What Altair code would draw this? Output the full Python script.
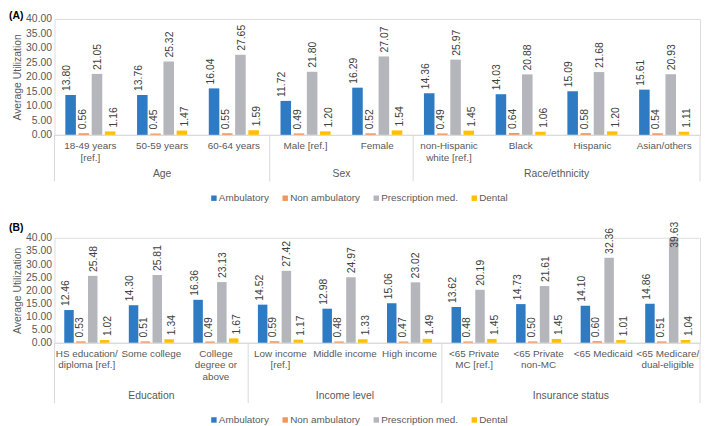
import altair as alt
import pandas as pd

FONT = "Liberation Sans"
TXT = "#595959"

series = ["Ambulatory", "Non ambulatory", "Prescription med.", "Dental"]
colors = ["#2E7BC4", "#F0965A", "#B4B6BC", "#FFC000"]

# Panel A
a_subcats = ["18-49 years|[ref.]", "50-59 years", "60-64 years", "Male [ref.]", "Female",
             "non-Hispanic|white [ref.]", "Black", "Hispanic", "Asian/others"]
a_ambulatory = [13.80, 13.76, 16.04, 11.72, 16.29, 14.36, 14.03, 15.09, 15.61]
a_nonamb = [0.56, 0.45, 0.55, 0.49, 0.52, 0.49, 0.64, 0.58, 0.54]
a_presc = [21.05, 25.32, 27.65, 21.80, 27.07, 25.97, 20.88, 21.68, 20.93]
a_dental = [1.16, 1.47, 1.59, 1.20, 1.54, 1.45, 1.06, 1.20, 1.11]
a_groups = ["Age", "Sex", "Race/ethnicity"]
a_group_sizes = [3, 2, 4]

# Panel B
b_subcats = ["HS education/|diploma [ref.]", "Some college", "College|degree or|above",
             "Low income|[ref.]", "Middle income", "High income",
             "<65 Private|MC [ref.]", "<65 Private|non-MC", "<65 Medicaid", "<65 Medicare/|dual-eligible"]
b_ambulatory = [12.46, 14.30, 16.36, 14.52, 12.98, 15.06, 13.62, 14.73, 14.10, 14.86]
b_nonamb = [0.53, 0.51, 0.49, 0.59, 0.48, 0.47, 0.48, 0.50, 0.60, 0.51]
b_presc = [25.48, 25.81, 23.13, 27.42, 24.97, 23.02, 20.19, 21.61, 32.36, 39.63]
b_dental = [1.02, 1.34, 1.67, 1.17, 1.33, 1.49, 1.45, 1.45, 1.01, 1.04]
b_groups = ["Education", "Income level", "Insurance status"]
b_group_sizes = [3, 3, 4]

y_ticks = [0, 5, 10, 15, 20, 25, 30, 35, 40]
WIDTH = 652


def make_panel(tag, subcats, vals, groups, sizes, height, tag_y, glabel_dy, sep_len,
               label_cap, legend_y):
    rows = []
    for i, sub in enumerate(subcats):
        for j, s in enumerate(series):
            rows.append({"sub": sub, "series": s, "value": vals[j][i]})
    df = pd.DataFrame(rows)

    starts, s0 = [], 0
    for n in sizes:
        starts.append(s0)
        s0 += n
    gdf = pd.DataFrame({"label": groups, "start": starts,
                        "end": [a + b for a, b in zip(starts, sizes)]})
    bdf = pd.DataFrame({"b": [0] + list(gdf["end"])})
    ncat = len(subcats)

    xs = alt.Scale(paddingInner=0, paddingOuter=0)
    xo = alt.Scale(paddingInner=0.2, paddingOuter=0.82)
    ys = alt.Scale(domain=[0, 40], nice=False)
    ytitle = "Average Utilization"
    yaxis = alt.Axis(values=y_ticks, format=".2f", grid=False, domain=False, ticks=False,
                     labelOverlap=False, labelPadding=3, titlePadding=3,
                     labelFontSize=10.5, titleFontSize=10.5,
                     titleFontWeight="normal", labelColor=TXT, titleColor=TXT,
                     labelFont=FONT, titleFont=FONT)

    base = alt.Chart(df)
    bars = base.mark_bar().encode(
        x=alt.X("sub:N", sort=subcats, scale=xs, title=None,
                axis=alt.Axis(labelAngle=0, labelExpr="split(datum.label, '|')", ticks=False,
                              tickSize=0, labelPadding=6, labelFontSize=10, labelColor=TXT,
                              domainColor="#D9D9D9", labelLineHeight=11.5, labelLimit=300,
                              labelBaseline="top", labelFont=FONT)),
        xOffset=alt.XOffset("series:N", sort=series, scale=xo),
        y=alt.Y("value:Q", scale=ys, title=ytitle, axis=yaxis),
        color=alt.Color("series:N", sort=series, scale=alt.Scale(domain=series, range=colors),
                        legend=alt.Legend(title=None, orient="none", legendX=156, legendY=legend_y,
                                          direction="horizontal", symbolType="square", symbolSize=30,
                                          symbolStrokeWidth=0, labelFontSize=10, labelColor=TXT,
                                          labelFont=FONT, labelOffset=0, columnPadding=11, padding=0)),
    )
    labels = base.transform_calculate(pos=f"min(datum.value, {label_cap})").mark_text(
        angle=270, align="left", baseline="middle", dx=4, fontSize=10.5, color="#404040", font=FONT
    ).encode(
        x=alt.X("sub:N", sort=subcats, scale=xs, axis=None),
        xOffset=alt.XOffset("series:N", sort=series, scale=xo),
        y=alt.Y("pos:Q", scale=ys, title=ytitle, axis=yaxis),
        text=alt.Text("value:Q", format=".2f"),
    )
    qs = alt.Scale(domain=[0, ncat], nice=False, zero=False)
    seps = alt.Chart(bdf).mark_rule(color="#D9D9D9", strokeWidth=1).encode(
        x=alt.X("b:Q", scale=qs, axis=None),
        y=alt.value(height),
        y2=alt.value(height + sep_len),
    )
    glabels = alt.Chart(gdf).transform_calculate(mid="(datum.start + datum.end) / 2").mark_text(
        fontSize=10.5, color=TXT, baseline="middle", align="center", font=FONT
    ).encode(
        x=alt.X("mid:Q", scale=qs, axis=None),
        y=alt.value(height + glabel_dy),
        text="label:N",
    )
    tagc = alt.Chart(pd.DataFrame({"t": [tag]})).mark_text(
        align="left", baseline="top", fontWeight="bold", fontSize=10.5, color="#000000", font=FONT
    ).encode(x=alt.value(-46), y=alt.value(tag_y), text="t:N")

    return alt.layer(bars, labels, seps, glabels, tagc).resolve_scale(
        x="independent", xOffset="independent"
    ).properties(width=WIDTH, height=height)


panel_a = make_panel("(A)", a_subcats, [a_ambulatory, a_nonamb, a_presc, a_dental],
                     a_groups, a_group_sizes, 117, -8, 40, 47, 34.7, 176)
panel_b = make_panel("(B)", b_subcats, [b_ambulatory, b_nonamb, b_presc, b_dental],
                     b_groups, b_group_sizes, 106, -15, 54, 61, 34.7, 179)

chart = alt.vconcat(panel_a, panel_b, spacing=17).resolve_scale(
    color="independent", x="independent", y="independent", xOffset="independent"
).resolve_legend(color="independent").properties(padding=0).configure_view(stroke=None).configure(font=FONT)

chart.save("out.html", embed_options={"renderer": "svg", "actions": False})
